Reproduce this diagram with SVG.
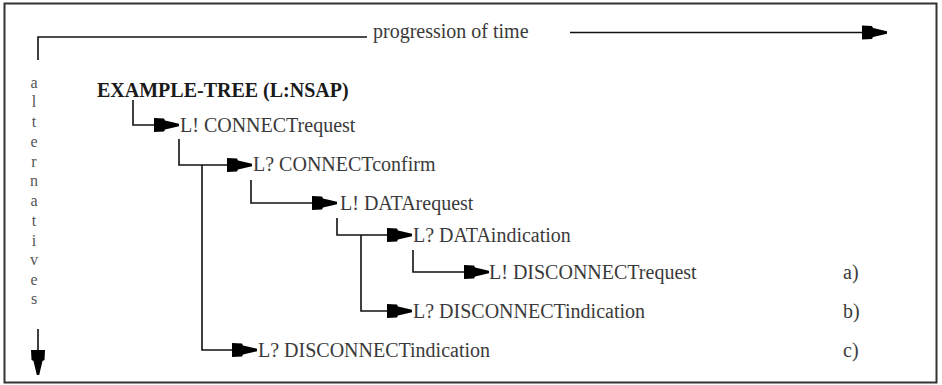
<svg xmlns="http://www.w3.org/2000/svg" width="942" height="385" viewBox="0 0 942 385">
  <style>
    .frame { fill: #ffffff; stroke: #333333; stroke-width: 2; }
    .wire { fill: none; stroke: #111111; stroke-width: 1.6; }
    .lbl { font-family: "Liberation Serif", serif; font-size: 20px; font-weight: normal; fill: #3a3a3a; }
    .title { font-family: "Liberation Serif", serif; font-size: 20px; font-weight: bold; fill: #1a1a1a; }
    .axis { font-family: "Liberation Serif", serif; font-size: 16px; fill: #555555; text-anchor: middle; }
  </style>
  <defs>
    <marker id="ah" viewBox="-26 -8 27 16" refX="0" refY="0" markerWidth="27" markerHeight="16" orient="auto" markerUnits="userSpaceOnUse">
      <path d="M-25,-7 L-15,-6.5 L-14,-4.5 L0,-1.2 L0,1.2 L-14,4.5 L-15,6.5 L-25,7 Z" fill="#000000"/>
    </marker>
  </defs>

  <rect class="frame" x="4.5" y="3.5" width="932" height="379"/>

  <!-- time axis -->
  <g id="time-axis">
    <polyline class="wire" points="38,60 38,37 367,37"/>
    <text class="lbl" x="373" y="38">progression of time</text>
    <line class="wire" x1="570" y1="32.5" x2="887" y2="32.5" marker-end="url(#ah)"/>
  </g>

  <!-- alternatives axis -->
  <g id="alt-axis">
    <text class="axis" x="34" y="88">a</text>
    <text class="axis" x="34" y="107">l</text>
    <text class="axis" x="34" y="127">t</text>
    <text class="axis" x="34" y="147">e</text>
    <text class="axis" x="34" y="167">r</text>
    <text class="axis" x="34" y="186">n</text>
    <text class="axis" x="34" y="206">a</text>
    <text class="axis" x="34" y="226">t</text>
    <text class="axis" x="34" y="246">i</text>
    <text class="axis" x="34" y="265">v</text>
    <text class="axis" x="34" y="285">e</text>
    <text class="axis" x="34" y="304">s</text>
    <line class="wire" x1="38" y1="329" x2="38" y2="375" marker-end="url(#ah)"/>
  </g>

  <!-- tree nodes -->
  <g id="root"><text class="title" x="97" y="97">EXAMPLE-TREE (L:NSAP)</text></g>
  <g id="n-connect-req"><text class="lbl" x="180" y="132">L! CONNECTrequest</text></g>
  <g id="n-connect-conf"><text class="lbl" x="253" y="171">L? CONNECTconfirm</text></g>
  <g id="n-data-req"><text class="lbl" x="340" y="210">L! DATArequest</text></g>
  <g id="n-data-ind"><text class="lbl" x="413" y="242">L? DATAindication</text></g>
  <g id="n-disc-req"><text class="lbl" x="489" y="279">L! DISCONNECTrequest</text><text class="lbl" x="843" y="279">a)</text></g>
  <g id="n-disc-ind-b"><text class="lbl" x="413" y="318">L? DISCONNECTindication</text><text class="lbl" x="843" y="318">b)</text></g>
  <g id="n-disc-ind-c"><text class="lbl" x="258" y="357">L? DISCONNECTindication</text><text class="lbl" x="843" y="357">c)</text></g>

  <!-- connectors -->
  <g id="connectors">
    <polyline class="wire" points="133,100 133,125 179,125" marker-end="url(#ah)"/>
    <polyline class="wire" points="179,139 179,165 252,165" marker-end="url(#ah)"/>
    <polyline class="wire" points="202,165 202,350 257,350" marker-end="url(#ah)"/>
    <polyline class="wire" points="251,180 251,203 337,203" marker-end="url(#ah)"/>
    <polyline class="wire" points="337,218 337,235 412,235" marker-end="url(#ah)"/>
    <polyline class="wire" points="361,235 361,311 412,311" marker-end="url(#ah)"/>
    <polyline class="wire" points="413,250 413,272 489,272" marker-end="url(#ah)"/>
  </g>
</svg>
